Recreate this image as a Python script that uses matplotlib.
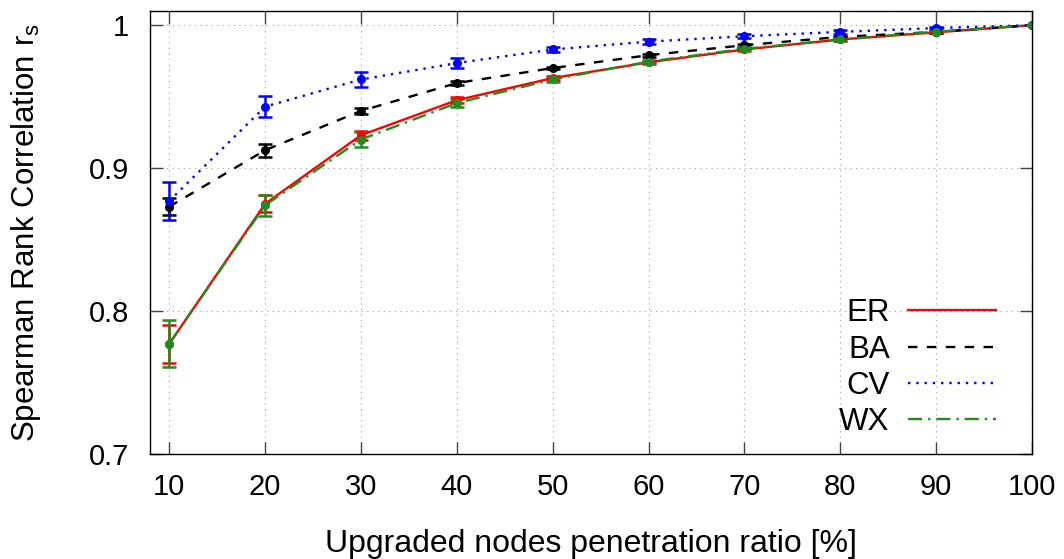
import matplotlib
matplotlib.use("Agg")
import matplotlib.pyplot as plt
from matplotlib.lines import Line2D

plt.rcParams["font.family"] = ["Liberation Sans", "DejaVu Sans"]

ratio = [10, 20, 30, 40, 50, 60, 70, 80, 90, 100]

er = [0.777, 0.875, 0.923, 0.9475, 0.963, 0.974, 0.983, 0.990, 0.995, 1.0]
er_err = [0.0135, 0.006, 0.003, 0.002, 0.0015, 0.001, 0.001, 0.0008, 0.0005, 0.0]

ba = [0.873, 0.9125, 0.940, 0.9595, 0.970, 0.979, 0.986, 0.9918, 0.9953, 1.0]
ba_err = [0.006, 0.0045, 0.002, 0.0015, 0.001, 0.001, 0.001, 0.0008, 0.0005, 0.0]

cv = [0.877, 0.943, 0.962, 0.9735, 0.983, 0.9885, 0.9923, 0.9953, 0.998, 1.0]
cv_err = [0.013, 0.0075, 0.0052, 0.0035, 0.002, 0.0015, 0.0012, 0.0012, 0.0008, 0.0]

wx = [0.777, 0.874, 0.920, 0.9455, 0.962, 0.9745, 0.9835, 0.990, 0.9955, 1.0]
wx_err = [0.0165, 0.0075, 0.005, 0.0025, 0.0015, 0.0012, 0.001, 0.0008, 0.0005, 0.0]

series = [
    ("ER", er, er_err, "#ff0000", "-"),
    ("BA", ba, ba_err, "#000000", (0, (4, 4))),
    ("CV", cv, cv_err, "#0000ff", (0, (1, 2.5))),
    ("WX", wx, wx_err, "#228b22", (0, (6, 2.5, 1, 2.5))),
]

fig, ax = plt.subplots(figsize=(10.64, 5.59), dpi=100)
fig.subplots_adjust(left=0.141, right=0.970, top=0.980, bottom=0.188)

handles = []
for name, vals, errs, color, ls in series:
    ax.errorbar(ratio, vals, yerr=errs, color=color, linestyle=ls, linewidth=1.7,
                marker="o", markersize=5.5, capsize=5, capthick=1.8, elinewidth=1.8)
    handles.append(Line2D([], [], color=color, linestyle=ls, linewidth=1.7))

ax.set_xlim(8, 100)
ax.set_ylim(0.7, 1.0098)
ax.set_xticks(ratio)
ax.set_yticks([0.7, 0.8, 0.9, 1.0])
ax.set_yticklabels(["0.7", "0.8", "0.9", "1"])
ax.grid(True, color="#a0a0a0", linestyle=(0, (1, 4)), linewidth=0.8)
ax.tick_params(direction="in", length=9, width=1, top=True, right=True,
               labelsize=21, color="#444444")
ax.tick_params(axis="x", pad=14)
ax.tick_params(axis="y", pad=15)
for sp in ax.spines.values():
    sp.set_linewidth(1)

ax.set_xlabel("Upgraded nodes penetration ratio [%]", fontsize=23, labelpad=20)
ax.set_ylabel(r"Spearman Rank Correlation r$\mathregular{_s}$", fontsize=22.5, labelpad=33)

ax.legend(handles, [s[0] for s in series], loc="lower right", frameon=False,
          markerfirst=False, fontsize=22.5, handlelength=2.8, handletextpad=0.6,
          labelspacing=0.2, borderpad=0.0, borderaxespad=0.0,
          bbox_to_anchor=(0.959, 0.038))

fig.savefig("out.png", dpi=100)
